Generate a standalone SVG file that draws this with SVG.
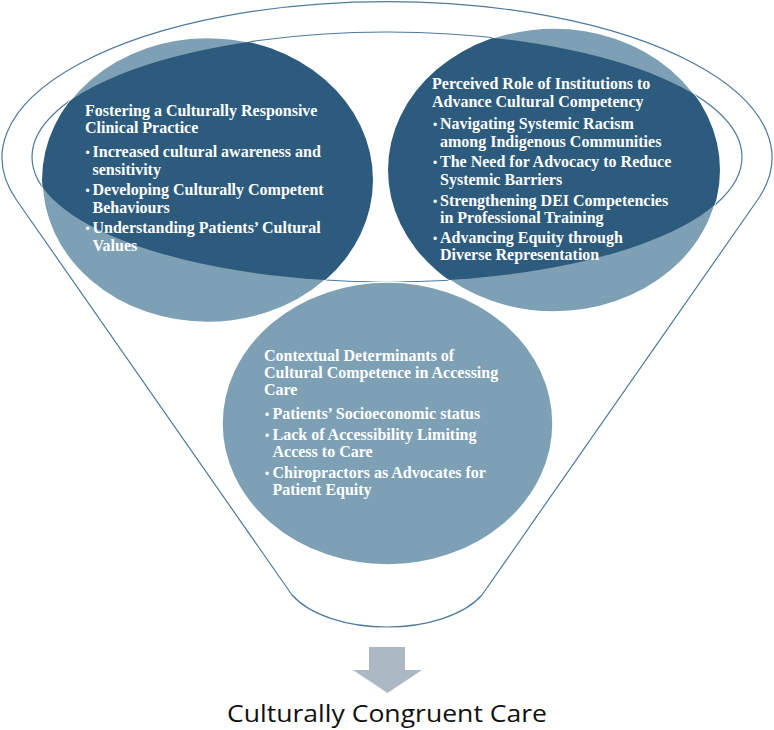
<svg xmlns="http://www.w3.org/2000/svg" width="774" height="730" viewBox="0 0 774 730">
<style>
.edge{fill:none;stroke:#4f7a9c;stroke-width:1.2}
.light{fill:#7ea0b5;stroke:#ffffff;stroke-width:1.5}
.dark{fill:#2d5b7d}
.t{font-family:"Liberation Serif","Times New Roman",serif;font-weight:bold;font-size:16px;fill:#ffffff}
.b{font-family:"Liberation Sans",Arial,sans-serif;font-size:12px;fill:#ffffff}
.cap{font-family:"Open Sans","Liberation Sans",sans-serif;font-size:24px;fill:#111111}
</style>
<defs>
<clipPath id="rim"><ellipse cx="387" cy="157" rx="355" ry="125"/></clipPath>
</defs>
<g id="funnel">
<path class="edge" d="M16.5,200 A385 156 0 1 1 757.5,200 L482,595 A105 55.7 0 0 1 292,595 Z"/>
<ellipse class="edge" cx="387" cy="157" rx="355" ry="125"/>
</g>
<g id="node-practice">
<ellipse class="light" cx="207.5" cy="180" rx="165.5" ry="142.5"/>
<ellipse class="dark" cx="207.5" cy="180" rx="165.5" ry="142.5" clip-path="url(#rim)"/>
<text class="t" x="85" y="116">Fostering a Culturally Responsive</text>
<text class="t" x="85" y="133">Clinical Practice</text>
<text class="b" x="85.5" y="157">•</text>
<text class="t" x="92.5" y="157">Increased cultural awareness and</text>
<text class="t" x="92.5" y="174.5">sensitivity</text>
<text class="b" x="85.5" y="195">•</text>
<text class="t" x="92.5" y="195">Developing Culturally Competent</text>
<text class="t" x="92.5" y="212.5">Behaviours</text>
<text class="b" x="85.5" y="233">•</text>
<text class="t" x="92.5" y="233">Understanding Patients’ Cultural</text>
<text class="t" x="92.5" y="250.5">Values</text>
</g>
<g id="node-institutions">
<ellipse class="light" cx="554" cy="170" rx="166" ry="142"/>
<ellipse class="dark" cx="554" cy="170" rx="166" ry="142" clip-path="url(#rim)"/>
<text class="t" x="432" y="89">Perceived Role of Institutions to</text>
<text class="t" x="432" y="107">Advance Cultural Competency</text>
<text class="b" x="433" y="129">•</text>
<text class="t" x="440" y="129">Navigating Systemic Racism</text>
<text class="t" x="440" y="147">among Indigenous Communities</text>
<text class="b" x="433" y="167">•</text>
<text class="t" x="440" y="167">The Need for Advocacy to Reduce</text>
<text class="t" x="440" y="185">Systemic Barriers</text>
<text class="b" x="433" y="206">•</text>
<text class="t" x="440" y="206">Strengthening DEI Competencies</text>
<text class="t" x="440" y="223">in Professional Training</text>
<text class="b" x="433" y="243">•</text>
<text class="t" x="440" y="243">Advancing Equity through</text>
<text class="t" x="440" y="260">Diverse Representation</text>
</g>
<g id="node-context">
<ellipse class="light" cx="387.5" cy="423.5" rx="165.5" ry="141.5"/>
<text class="t" x="264" y="360.5">Contextual Determinants of</text>
<text class="t" x="264" y="377.5">Cultural Competence in Accessing</text>
<text class="t" x="264" y="394.5">Care</text>
<text class="b" x="265" y="419">•</text>
<text class="t" x="272.5" y="419">Patients’ Socioeconomic status</text>
<text class="b" x="265" y="440">•</text>
<text class="t" x="272.5" y="440">Lack of Accessibility Limiting</text>
<text class="t" x="272.5" y="457">Access to Care</text>
<text class="b" x="265" y="478">•</text>
<text class="t" x="272.5" y="478">Chiropractors as Advocates for</text>
<text class="t" x="272.5" y="494.5">Patient Equity</text>
</g>
<g id="connectors">
<path d="M369,647 H405 V670 H422 L387.5,693 L353,670 H369 Z" fill="#acb9c5"/>
</g>
<g id="node-result">
<text class="cap" x="227" y="722" textLength="320" lengthAdjust="spacingAndGlyphs">Culturally Congruent Care</text>
</g>
</svg>
